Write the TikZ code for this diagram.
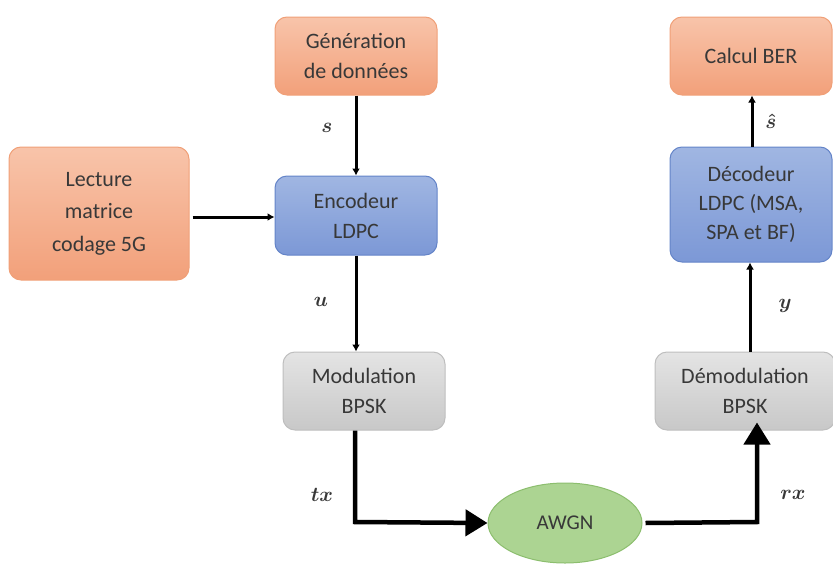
\documentclass[tikz,border=0pt]{standalone}
\usepackage{fontspec}
\setmainfont{Carlito}
\usetikzlibrary{arrows.meta,shapes.geometric}
\definecolor{orTop}{RGB}{248,196,170}
\definecolor{orBot}{RGB}{242,160,122}
\definecolor{orLine}{RGB}{240,160,120}
\definecolor{blTop}{RGB}{160,182,226}
\definecolor{blBot}{RGB}{124,152,214}
\definecolor{blLine}{RGB}{100,132,200}
\definecolor{grTop}{RGB}{228,228,228}
\definecolor{grBot}{RGB}{200,200,200}
\definecolor{grLine}{RGB}{190,190,190}
\definecolor{gnFill}{RGB}{172,212,146}
\definecolor{gnLine}{RGB}{140,190,110}
\definecolor{txt}{RGB}{56,56,56}
\begin{document}
\begin{tikzpicture}[x=1pt,y=-1pt,
  blk/.style={rounded corners=12pt, line width=1pt, align=center,
    font=\fontsize{22}{30}\selectfont, text=txt, inner sep=0pt},
  orangebox/.style={blk, draw=orLine, top color=orTop, bottom color=orBot},
  bluebox/.style={blk, draw=blLine, top color=blTop, bottom color=blBot},
  graybox/.style={blk, draw=grLine, top color=grTop, bottom color=grBot},
  greenell/.style={ellipse, line width=1pt, draw=gnLine, fill=gnFill,
    minimum width=154pt, minimum height=80pt, font=\fontsize{21}{22}\selectfont, text=txt},
  thin/.style={line width=3pt, -{Latex[length=7pt,width=8pt]}},
  thick/.style={line width=4.5pt, -{Triangle[length=22pt,width=26pt]}},
  lbl/.style={font=\fontsize{22}{24}\selectfont\boldmath, text=txt}
]
\useasboundingbox (0,0) rectangle (833,565);

% blocks
\node[orangebox, minimum width=162pt, minimum height=78pt] (gen) at (356,56) {Génération\\de données};
\node[bluebox, minimum width=162pt, minimum height=79pt] (enc) at (356,215.5) {Encodeur\\LDPC};
\node[orangebox, minimum width=180pt, minimum height=133pt, font=\fontsize{22}{32.5}\selectfont] (lec) at (99,213.5) {Lecture\\matrice\\codage 5G};
\node[graybox, minimum width=162pt, minimum height=78pt] (mod) at (364,391) {Modulation\\BPSK};
\node[greenell] (awgn) at (565,523) {AWGN};
\node[orangebox, minimum width=162pt, minimum height=78pt] (ber) at (751,56) {Calcul BER};
\node[bluebox, minimum width=162pt, minimum height=115pt, font=\fontsize{22}{29}\selectfont] (dec) at (751,204.5) {Décodeur\\LDPC (MSA,\\SPA et BF)};
\node[graybox, minimum width=180pt, minimum height=78pt] (dem) at (745,391) {Démodulation\\BPSK};

% corner points of the bent connectors
\coordinate (c1) at (355,522);
\coordinate (c2) at (757,522);

% connectors
\draw[thin] (gen.south -| 356,0) -- (enc.north -| 356,0);
\draw[thin] (lec.east |- 0,217) ++(3,0) -- (enc.west |- 0,217);
\draw[thin] (enc.south -| 356,0) -- (mod.north -| 356,0);
\draw[thick] (mod.south -| c1) -- (c1) -- (awgn.west);
\draw[thick] (awgn.east) ++(3,0) -- (c2) -- ([yshift=8pt]dem.south -| c2);
\draw[thin] (dem.north -| 750,0) -- (dec.south -| 750,0);
\draw[thin] (dec.north -| 752,0) -- (ber.south -| 752,0);

% signal labels
\node[lbl] (ls) at (327,128) {$s$};
\node[lbl] (lu) at (321,302) {$u$};
\node[lbl] (ltx) at (322,495) {$tx$};
\node[lbl] (lrx) at (793,495) {$rx$};
\node[lbl] (ly) at (785,306) {$y$};
\node[lbl] (lsh) at (771,121) {$\hat{s}$};
\end{tikzpicture}
\end{document}
